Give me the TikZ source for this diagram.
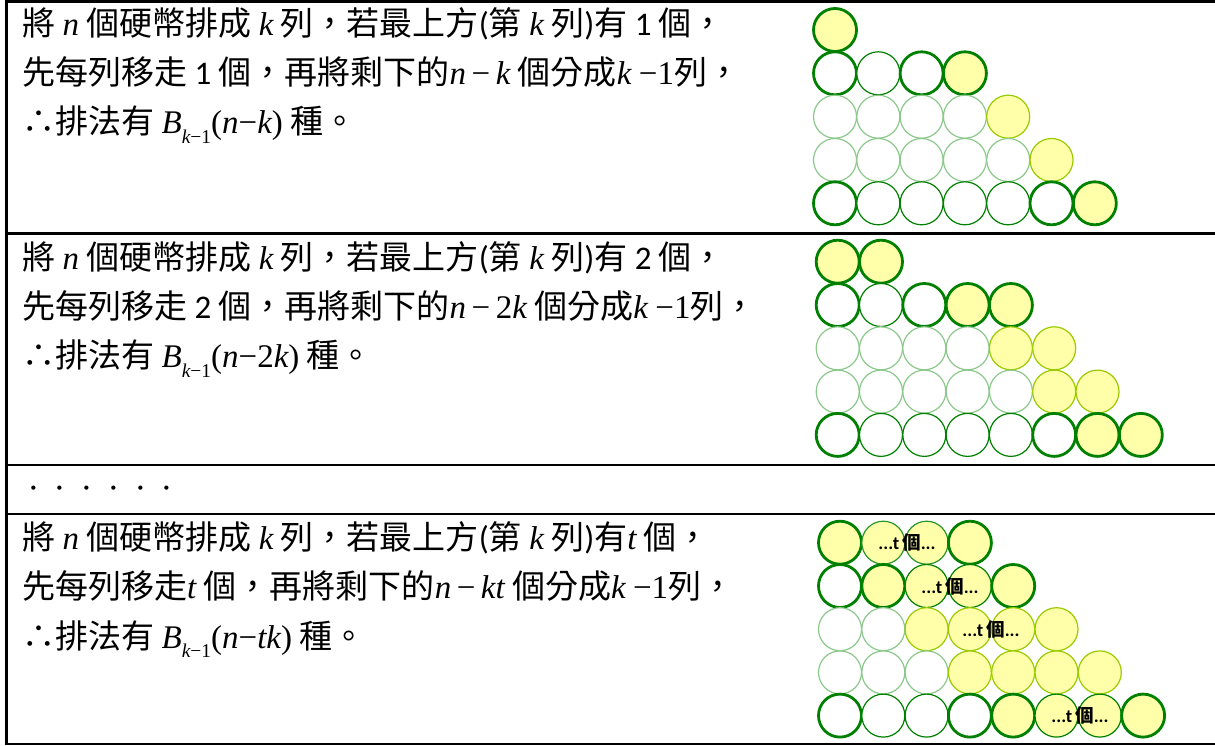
\documentclass[tikz,border=0pt]{standalone}
\usepackage{fontspec}
\setmainfont{Liberation Serif}
\newfontfamily\cjk{Noto Sans CJK TC}
\newfontfamily\calf{Carlito}
\newfontfamily\tms{Liberation Serif}
\newcommand\mi[1]{{\tms\itshape #1}}
\newcommand\mns{{\tms −}}
\newcommand\Bsub{\mi{B}\raisebox{-0.3em}{\fontsize{19.5pt}{19.5pt}\selectfont\mi{k}\mns{\tms 1}}}
\definecolor{dkgreen}{RGB}{0,128,0}
\definecolor{ltgreen}{RGB}{140,200,140}
\definecolor{ygreen}{RGB}{153,204,0}
\definecolor{lyellow}{RGB}{255,255,170}
\definecolor{mdgreen}{RGB}{40,150,40}
\tikzset{
  tk/.style={draw=dkgreen, line width=2.8pt, fill=white},
  tky/.style={draw=dkgreen, line width=2.8pt, fill=lyellow},
  tn/.style={draw=dkgreen, line width=1.2pt, fill=white},
  tny/.style={draw=dkgreen, line width=1.2pt, fill=lyellow},
  mdy/.style={draw=mdgreen, line width=1.2pt, fill=lyellow},
  ft/.style={draw=ltgreen, line width=1.2pt, fill=white},
  yg/.style={draw=ygreen, line width=1.2pt, fill=lyellow},
  txt/.style={anchor=base west, inner sep=0pt, font=\cjk\fontsize{33pt}{33pt}\selectfont},
  lbl/.style={inner sep=0pt, font=\bfseries\fontsize{18.5pt}{18.5pt}\selectfont},
  rule/.style={line width=2.2pt, black},
  brule/.style={line width=3pt, black}
}
\newcommand\crow[3]{%
  \foreach \s [count=\i from 0] in {#3} {\draw[\s] (#1+\i*43.3,#2) circle[radius=21.5pt];}}
\begin{document}
\begin{tikzpicture}[x=1pt,y=-1pt]
\useasboundingbox (0,0) rectangle (1215,746);
% table rules
\draw[brule] (5,1.5) -- (1215,1.5);
\draw[brule] (6.5,0) -- (6.5,745);
\draw[rule] (5,233.5) -- (1215,233.5);
\draw[rule] (5,464.7) -- (1215,464.7);
\draw[rule] (5,513.7) -- (1215,513.7);
\draw[rule] (5,743.6) -- (1215,743.6);
% row 1 text
\node[txt] (a1) at (22,36) {將 \mi{n} 個硬幣排成 \mi{k} 列，若最上方{\calf (}第 \mi{k} 列{\calf )}有 {\calf 1} 個，};
\node[txt] (a2) at (22,85) {先每列移走 {\calf 1} 個，再將剩下的\mi{n}\,\mns\,\mi{k} 個分成\mi{k} \mns{\tms 1}列，};
\node[txt] (a3) at (22,134) {∴排法有 \Bsub{\tms (}\mi{n}\mns\mi{k}{\tms )} 種。};
% row 2 text
\node[txt] (b1) at (22,269) {將 \mi{n} 個硬幣排成 \mi{k} 列，若最上方{\calf (}第 \mi{k} 列{\calf )}有 {\calf 2} 個，};
\node[txt] (b2) at (22,318) {先每列移走 {\calf 2} 個，再將剩下的\mi{n}\,\mns\,{\tms 2}\mi{k} 個分成\mi{k} \mns{\tms 1}列，};
\node[txt] (b3) at (22,367.5) {∴排法有 \Bsub{\tms (}\mi{n}\mns{\tms 2}\mi{k}{\tms )} 種。};
% dots row
\node[anchor=base west, inner sep=0pt, font=\cjk\fontsize{26.7pt}{26.7pt}\selectfont] (dots) at (20,498) {．．．．．．};
% row 4 text
\node[txt] (c1) at (22,549.5) {將 \mi{n} 個硬幣排成 \mi{k} 列，若最上方{\calf (}第 \mi{k} 列{\calf )}有\mi{t} 個，};
\node[txt] (c2) at (22,598.5) {先每列移走\mi{t} 個，再將剩下的\mi{n}\,\mns\,\mi{kt} 個分成\mi{k} \mns{\tms 1}列，};
\node[txt] (c3) at (22,648) {∴排法有 \Bsub{\tms (}\mi{n}\mns\mi{tk}{\tms )} 種。};
% diagram 1
\crow{835}{30}{tky}
\crow{835}{73.3}{tk,tn,tk,tky}
\crow{835}{116.7}{ft,ft,ft,ft,yg}
\crow{835}{160}{ft,ft,ft,ft,ft,yg}
\crow{835}{203.3}{tk,tn,tn,tn,tn,tk,tky}
% diagram 2
\crow{837.7}{261.7}{tky,tky}
\crow{837.7}{305}{tk,tn,tk,tky,tky}
\crow{837.7}{348.3}{ft,ft,ft,ft,yg,yg}
\crow{837.7}{391.6}{ft,ft,ft,ft,ft,yg,yg}
\crow{837.7}{434.9}{tk,tn,tn,tn,tn,tk,tky,tky}
% diagram 3
\crow{840}{542.7}{tky,mdy,mdy,tky}
\crow{840}{586}{tk,tky,tny,tny,tky}
\crow{840}{629.2}{ft,ft,yg,yg,yg,yg}
\crow{840}{672.4}{ft,ft,ft,yg,yg,yg,yg}
\crow{840}{715.6}{tk,tn,tn,tk,tky,tny,tny,tky}
\node[lbl] (t1) at (907,542.7) {{\calf ...t}\,{\cjk\bfseries 個}{\calf ...}};
\node[lbl] (t2) at (950,586) {{\calf ...t}\,{\cjk\bfseries 個}{\calf ...}};
\node[lbl] (t3) at (991,629.2) {{\calf ...t}\,{\cjk\bfseries 個}{\calf ...}};
\node[lbl] (t4) at (1080,715.6) {{\calf ...t}\,{\cjk\bfseries 個}{\calf ...}};
\end{tikzpicture}
\end{document}
